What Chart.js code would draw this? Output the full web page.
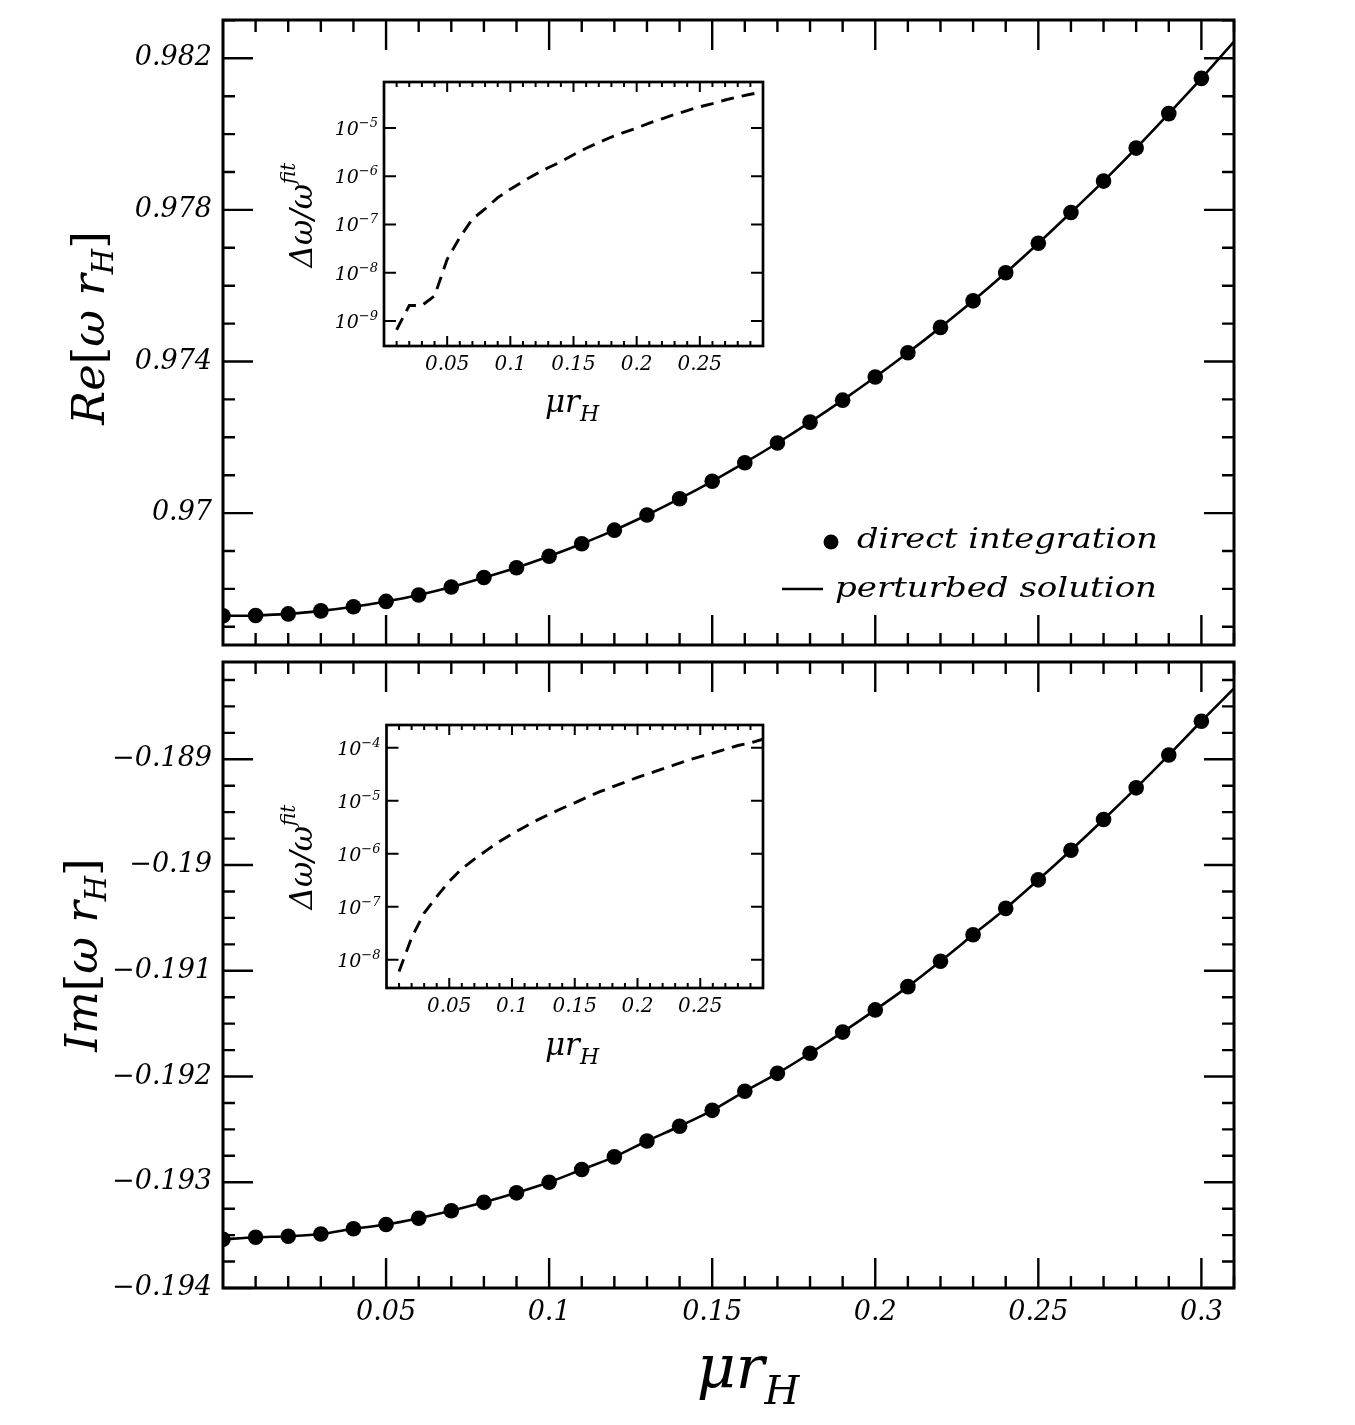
<!DOCTYPE html>
<html>
<head>
<meta charset="utf-8">
<title>Re / Im of omega r_H vs mu r_H</title>
<script src="https://cdn.jsdelivr.net/npm/chart.js@4.4.0/dist/chart.umd.min.js"></script>
<style>
  html, body { margin: 0; padding: 0; background: #fff; }
  #wrap { position: relative; width: 1355px; height: 1425px; }
  canvas { position: absolute; }
</style>
</head>
<body>
<div id="wrap">
  <canvas id="reMain" width="1355" height="654" style="left:0;top:0"></canvas>
  <canvas id="imMain" width="1355" height="771" style="left:0;top:654px"></canvas>
  <canvas id="reInset" width="500" height="370" style="left:280px;top:68px"></canvas>
  <canvas id="imInset" width="500" height="370" style="left:280px;top:711px"></canvas>
</div>
<script>
// values
const muGrid = [0.00, 0.01, 0.02, 0.03, 0.04, 0.05, 0.06, 0.07, 0.08, 0.09, 0.10,
  0.11, 0.12, 0.13, 0.14, 0.15, 0.16, 0.17, 0.18, 0.19, 0.20,
  0.21, 0.22, 0.23, 0.24, 0.25, 0.26, 0.27, 0.28, 0.29, 0.30];
const muLine = [0.00, 0.01, 0.02, 0.03, 0.04, 0.05, 0.06, 0.07, 0.08, 0.09, 0.10,
  0.11, 0.12, 0.13, 0.14, 0.15, 0.16, 0.17, 0.18, 0.19, 0.20,
  0.21, 0.22, 0.23, 0.24, 0.25, 0.26, 0.27, 0.28, 0.29, 0.30, 0.31];

const reDirect = [0.96729, 0.96730, 0.96734, 0.96742, 0.96753, 0.96767, 0.96784, 0.96805, 0.96830, 0.96856, 0.96886,
  0.96919, 0.96955, 0.96995, 0.97038, 0.97084, 0.97133, 0.97185, 0.97240, 0.97298, 0.97359,
  0.97423, 0.97490, 0.97560, 0.97634, 0.97712, 0.97793, 0.97876, 0.97963, 0.98054, 0.98147];
const rePerturbed = [0.96729, 0.96730, 0.96734, 0.96742, 0.96753, 0.96767, 0.96784, 0.96805, 0.96830, 0.96856, 0.96886,
  0.96919, 0.96955, 0.96995, 0.97038, 0.97084, 0.97133, 0.97185, 0.97240, 0.97298, 0.97359,
  0.97423, 0.97490, 0.97560, 0.97634, 0.97712, 0.97793, 0.97876, 0.97963, 0.98054, 0.98147, 0.98244];

const imDirect = [-0.19354, -0.19352, -0.19351, -0.19349, -0.19344, -0.19340, -0.19334, -0.19327, -0.19319, -0.19310, -0.19300,
  -0.19288, -0.19276, -0.19261, -0.19247, -0.19232, -0.19214, -0.19197, -0.19178, -0.19158, -0.19137,
  -0.19115, -0.19091, -0.19066, -0.19041, -0.19014, -0.18986, -0.18957, -0.18927, -0.18896, -0.18864];
const imPerturbed = [-0.19354, -0.19352, -0.19351, -0.19349, -0.19344, -0.19340, -0.19334, -0.19327, -0.19319, -0.19310, -0.19300,
  -0.19288, -0.19276, -0.19261, -0.19247, -0.19232, -0.19214, -0.19197, -0.19178, -0.19158, -0.19137,
  -0.19115, -0.19091, -0.19066, -0.19041, -0.19014, -0.18986, -0.18957, -0.18927, -0.18896, -0.18864, -0.18833];

const muInset = [0.01, 0.02, 0.03, 0.04, 0.05, 0.06, 0.07, 0.08, 0.09, 0.10,
  0.11, 0.12, 0.13, 0.14, 0.15, 0.16, 0.17, 0.18, 0.19, 0.20,
  0.21, 0.22, 0.23, 0.24, 0.25, 0.26, 0.27, 0.28, 0.29, 0.30];
const reRelErr = [6.6e-10, 2.1e-9, 2.1e-9, 3.3e-9, 1.9e-8, 5.4e-8, 1.3e-7, 2.1e-7, 3.6e-7, 5.4e-7,
  7.8e-7, 1.1e-6, 1.5e-6, 2.0e-6, 2.8e-6, 3.8e-6, 5.0e-6, 6.5e-6, 8.1e-6, 1.0e-5,
  1.26e-5, 1.55e-5, 1.9e-5, 2.3e-5, 2.75e-5, 3.2e-5, 3.8e-5, 4.4e-5, 5.0e-5, 5.6e-5];
const imRelErr = [6.0e-9, 2.6e-8, 7.6e-8, 1.55e-7, 3.0e-7, 5.2e-7, 7.9e-7, 1.17e-6, 1.7e-6, 2.35e-6,
  3.2e-6, 4.3e-6, 5.6e-6, 7.2e-6, 9.1e-6, 1.17e-5, 1.48e-5, 1.82e-5, 2.24e-5, 2.75e-5,
  3.3e-5, 4.0e-5, 4.8e-5, 5.75e-5, 6.8e-5, 7.9e-5, 9.3e-5, 1.1e-4, 1.23e-4, 1.45e-4];

// tick values and labels
const xTickVals = [0.05, 0.1, 0.15, 0.2, 0.25, 0.3];
const xTickLabels = ['0.05', '0.1', '0.15', '0.2', '0.25', '0.3'];
const reTickVals = [0.970, 0.974, 0.978, 0.982];
const reTickLabels = ['0.97', '0.974', '0.978', '0.982'];
const imTickVals = [-0.194, -0.193, -0.192, -0.191, -0.190, -0.189];
const imTickLabels = ['\u22120.194', '\u22120.193', '\u22120.192', '\u22120.191', '\u22120.19', '\u22120.189'];
const insetXTickVals = [0.05, 0.1, 0.15, 0.2, 0.25];
const insetXTickLabels = ['0.05', '0.1', '0.15', '0.2', '0.25'];
const reInsetTickVals = [1e-9, 1e-8, 1e-7, 1e-6, 1e-5];
const reInsetExps = ['\u22129', '\u22128', '\u22127', '\u22126', '\u22125'];
const imInsetTickVals = [1e-8, 1e-7, 1e-6, 1e-5, 1e-4];
const imInsetExps = ['\u22128', '\u22127', '\u22126', '\u22125', '\u22124'];

// minor tick positions
const xMinor = [];
for (let i = 1; i <= 31; i++) if (i % 5) xMinor.push(i / 100);
const insetXMinor = [];
for (let i = 1; i <= 29; i++) if (i % 5) insetXMinor.push(i / 100);
const reMinor = [];
for (let i = 967; i <= 983; i++) if ((i - 970) % 4) reMinor.push(i / 1000);
const imMinor = [];
for (let k = 1; k <= 23; k++) if (k % 4) imMinor.push(-0.194 + k * 0.00025);

Chart.defaults.font.family = '"DejaVu Serif", serif';
Chart.defaults.font.style = 'italic';
Chart.defaults.color = '#000';

const FONT = '"DejaVu Serif"';

// draws a run of differently sized pieces; align 'center' or 'right'
function rich(ctx, parts, x, y, rotate, align) {
  ctx.save();
  ctx.fillStyle = '#000';
  ctx.textBaseline = 'alphabetic';
  ctx.textAlign = 'left';
  let total = 0;
  for (const p of parts) { ctx.font = p.f; total += ctx.measureText(p.t).width; }
  ctx.translate(x, y);
  if (rotate) ctx.rotate(-Math.PI / 2);
  let cx = align === 'right' ? -total : -total / 2;
  for (const p of parts) {
    ctx.font = p.f;
    ctx.fillText(p.t, cx, p.dy || 0);
    cx += ctx.measureText(p.t).width;
  }
  ctx.restore();
}

function fitText(ctx, txt, right, base, width, font) {
  ctx.save();
  ctx.font = font;
  ctx.fillStyle = '#000';
  ctx.textBaseline = 'alphabetic';
  const w = ctx.measureText(txt).width;
  ctx.translate(right - width, base);
  ctx.scale(width / w, 1);
  ctx.fillText(txt, 0, 0);
  ctx.restore();
}

// frame, inward ticks on all four sides, and extra text
function decor(spec) {
  return {
    id: 'decor',
    beforeDatasetsDraw(chart) {
      if (!spec.fill) return;
      const a = chart.chartArea;
      chart.ctx.save();
      chart.ctx.fillStyle = '#fff';
      chart.ctx.fillRect(a.left, a.top, a.width, a.height);
      chart.ctx.restore();
    },
    afterDatasetsDraw(chart) {
      const { ctx, chartArea: a } = chart;
      const x = chart.scales.x, y = chart.scales.y;
      ctx.save();
      ctx.strokeStyle = '#000';
      ctx.lineWidth = spec.tickW;
      ctx.beginPath();
      const xt = (vals, len) => vals.forEach(v => {
        const p = x.getPixelForValue(v);
        ctx.moveTo(p, a.bottom); ctx.lineTo(p, a.bottom - len);
        ctx.moveTo(p, a.top); ctx.lineTo(p, a.top + len);
      });
      const yt = (vals, len) => vals.forEach(v => {
        const p = y.getPixelForValue(v);
        ctx.moveTo(a.left, p); ctx.lineTo(a.left + len, p);
        ctx.moveTo(a.right, p); ctx.lineTo(a.right - len, p);
      });
      xt(spec.xMajor, spec.xMajorLen);
      xt(spec.xMinor, spec.minorLen);
      yt(spec.yMajor, spec.yMajorLen);
      yt(spec.yMinor || [], spec.minorLen);
      ctx.stroke();
      ctx.lineWidth = spec.frameW;
      ctx.strokeRect(a.left, a.top, a.width, a.height);
      ctx.restore();
    },
    afterDraw(chart) {
      if (spec.text) spec.text(chart.ctx, chart);
    }
  };
}

// drop the half-label overhang that Chart.js reserves at the ends of an axis
const noOverhang = s => { s.paddingTop = 0; s.paddingBottom = 0; s.paddingLeft = 0; s.paddingRight = 0; };

function mainChart(id, o) {
  return new Chart(document.getElementById(id), {
    type: 'scatter',
    data: {
      datasets: [
        {
          label: 'direct integration',
          data: muGrid.map((m, i) => ({ x: m, y: o.direct[i] })),
          showLine: false,
          pointRadius: 7.8,
          pointBackgroundColor: '#000',
          pointBorderWidth: 0,
          clip: 0
        },
        {
          label: 'perturbed solution',
          data: muLine.map((m, i) => ({ x: m, y: o.perturbed[i] })),
          showLine: true,
          borderColor: '#000',
          borderWidth: 2.6,
          pointRadius: 0,
          cubicInterpolationMode: 'monotone',
          clip: 0
        }
      ]
    },
    options: {
      responsive: false,
      animation: false,
      events: [],
      layout: { padding: { top: o.padTop, right: 121, left: 0, bottom: 0 } },
      plugins: { legend: { display: false }, tooltip: { enabled: false } },
      scales: {
        x: {
          type: 'linear', min: 0, max: 0.31,
          grid: { display: false, drawTicks: false },
          border: { display: false },
          ticks: {
            display: o.showX, autoSkip: false, maxRotation: 0, padding: 9,
            font: { size: 27, style: 'italic' },
            callback: (v, i) => xTickLabels[i]
          },
          afterBuildTicks: s => { s.ticks = xTickVals.map(v => ({ value: v })); },
          afterFit: s => { s.height = o.xH; noOverhang(s); }
        },
        y: {
          type: 'linear', min: o.yMin, max: o.yMax,
          grid: { display: false, drawTicks: false },
          border: { display: false },
          ticks: {
            autoSkip: false, padding: 11,
            font: { size: 27, style: 'italic' },
            callback: (v, i) => o.yLabels[i]
          },
          afterBuildTicks: s => { s.ticks = o.yTicks.map(v => ({ value: v })); },
          afterFit: s => { s.width = 223; noOverhang(s); }
        }
      }
    },
    plugins: [decor({
      tickW: 2.4, frameW: 3, xMajorLen: 30, yMajorLen: 30, minorLen: 12,
      xMajor: xTickVals, xMinor: xMinor, yMajor: o.yTicks, yMinor: o.yMinor,
      text: o.text
    })]
  });
}

function insetChart(id, o) {
  return new Chart(document.getElementById(id), {
    type: 'scatter',
    data: {
      datasets: [{
        label: 'relative difference',
        data: muInset.map((m, i) => ({ x: m, y: o.vals[i] })),
        showLine: true,
        borderColor: '#000',
        borderWidth: 2.9,
        borderDash: [13, 8],
        pointRadius: 0,
        clip: 0
      }]
    },
    options: {
      responsive: false,
      animation: false,
      events: [],
      layout: { padding: { top: 14, right: 17, left: 0, bottom: 0 } },
      plugins: { legend: { display: false }, tooltip: { enabled: false } },
      scales: {
        x: {
          type: 'linear', min: 0, max: 0.3,
          grid: { display: false, drawTicks: false },
          border: { display: false },
          ticks: {
            autoSkip: false, maxRotation: 0, padding: 7,
            font: { size: 20, style: 'italic' },
            callback: (v, i) => insetXTickLabels[i]
          },
          afterBuildTicks: s => { s.ticks = insetXTickVals.map(v => ({ value: v })); },
          afterFit: s => { s.height = o.xH; noOverhang(s); }
        },
        y: {
          type: 'logarithmic', min: o.yMin, max: o.yMax,
          grid: { display: false, drawTicks: false },
          border: { display: false },
          ticks: { display: false },
          afterBuildTicks: s => { s.ticks = o.yTicks.map(v => ({ value: v })); },
          afterFit: s => { s.width = o.yW; noOverhang(s); }
        }
      }
    },
    plugins: [decor({
      fill: true, tickW: 2, frameW: 2.7, xMajorLen: 10, yMajorLen: 12, minorLen: 5,
      xMajor: insetXTickVals, xMinor: insetXMinor, yMajor: o.yTicks,
      text: (ctx, chart) => {
        // powers of ten with raised exponents, placed through the log scale
        const y = chart.scales.y, left = chart.chartArea.left;
        o.yTicks.forEach((v, i) => {
          rich(ctx, [
            { t: '10', f: 'italic 19px ' + FONT },
            { t: o.yExps[i], f: 'italic 13px ' + FONT, dy: -8 }
          ], left - 6, y.getPixelForValue(v) + 7, false, 'right');
        });
        rich(ctx, [
          { t: '\u0394\u03C9/\u03C9', f: 'italic 31px ' + FONT },
          { t: 'fit', f: 'italic 20px ' + FONT, dy: -17 }
        ], 32, o.yLabelY, true);
        rich(ctx, [
          { t: '\u03BCr', f: 'italic 31px ' + FONT },
          { t: 'H', f: 'italic 22px ' + FONT, dy: 9 }
        ], 292, 344, false);
      }
    })]
  });
}

mainChart('reMain', {
  direct: reDirect, perturbed: rePerturbed,
  yMin: 0.96652, yMax: 0.98301, yTicks: reTickVals, yLabels: reTickLabels, yMinor: reMinor,
  showX: false, padTop: 20, xH: 9,
  text: ctx => {
    rich(ctx, [
      { t: 'Re', f: 'italic 45px ' + FONT },
      { t: '[', f: 'normal 45px ' + FONT },
      { t: '\u03C9 r', f: 'italic 45px ' + FONT },
      { t: 'H', f: 'italic 29px ' + FONT, dy: 9 },
      { t: ']', f: 'normal 45px ' + FONT }
    ], 104, 328, true);
    // legend
    ctx.save();
    ctx.fillStyle = '#000';
    ctx.beginPath();
    ctx.arc(831, 542, 7.5, 0, Math.PI * 2);
    ctx.fill();
    ctx.strokeStyle = '#000';
    ctx.lineWidth = 2.6;
    ctx.beginPath();
    ctx.moveTo(782, 589);
    ctx.lineTo(823, 589);
    ctx.stroke();
    ctx.restore();
    fitText(ctx, 'direct integration', 1158, 548, 301, 'italic 28px ' + FONT);
    fitText(ctx, 'perturbed solution', 1157, 597, 322, 'italic 28px ' + FONT);
  }
});

mainChart('imMain', {
  direct: imDirect, perturbed: imPerturbed,
  yMin: -0.194, yMax: -0.18808, yTicks: imTickVals, yLabels: imTickLabels, yMinor: imMinor,
  showX: true, padTop: 8, xH: 137,
  text: ctx => {
    rich(ctx, [
      { t: 'Im', f: 'italic 45px ' + FONT },
      { t: '[', f: 'normal 45px ' + FONT },
      { t: '\u03C9 r', f: 'italic 45px ' + FONT },
      { t: 'H', f: 'italic 29px ' + FONT, dy: 9 },
      { t: ']', f: 'normal 45px ' + FONT }
    ], 97, 301, true);
    rich(ctx, [
      { t: '\u03BCr', f: 'italic 60px ' + FONT },
      { t: 'H', f: 'italic 40px ' + FONT, dy: 16 }
    ], 748, 734, false);
  }
});

insetChart('reInset', {
  vals: reRelErr, yMin: Math.pow(10, -9.518), yMax: Math.pow(10, -4.047),
  yTicks: reInsetTickVals, yExps: reInsetExps, yW: 104, xH: 92, yLabelY: 147
});

insetChart('imInset', {
  vals: imRelErr, yMin: Math.pow(10, -8.533), yMax: Math.pow(10, -3.572),
  yTicks: imInsetTickVals, yExps: imInsetExps, yW: 106.5, xH: 93, yLabelY: 146
});
</script>
</body>
</html>
